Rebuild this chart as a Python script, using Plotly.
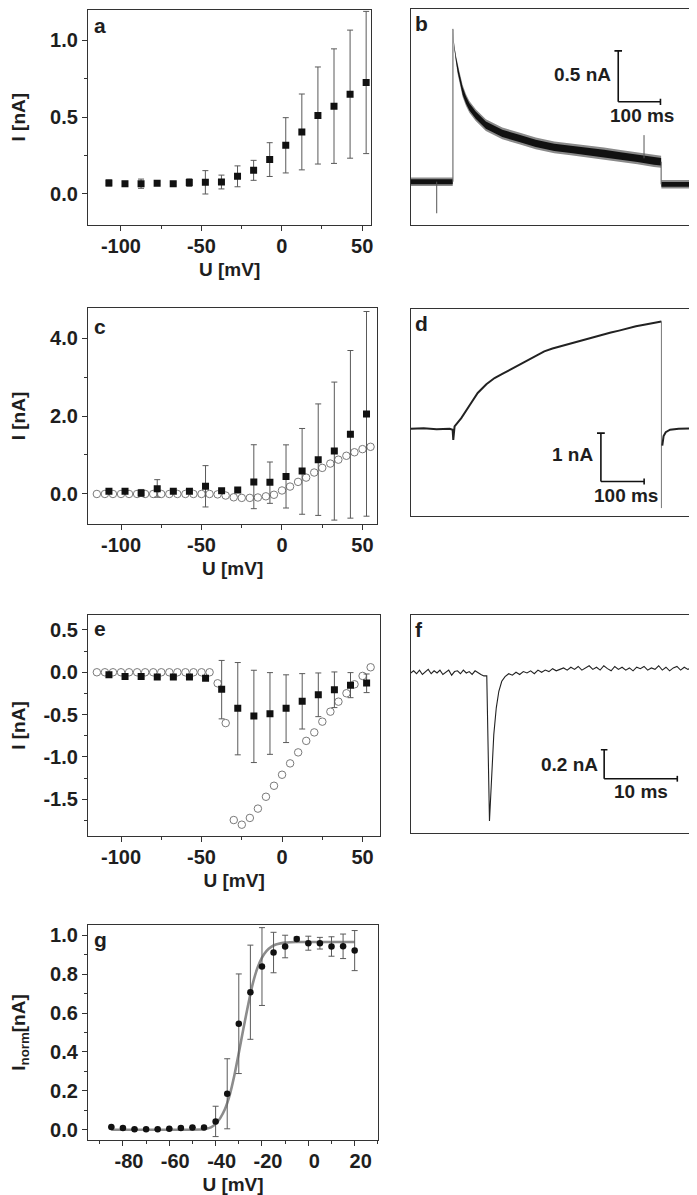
import plotly.graph_objects as go

# ---------------- data ----------------
# panel a
A_U = [-107.5, -97.5, -87.5, -77.5, -67.5, -57.5, -47.5, -37.5, -27.5, -17.5, -7.5, 2.5, 12.5, 22.5, 32.5, 42.5, 52.5]
A_I = [0.072, 0.067, 0.067, 0.070, 0.067, 0.074, 0.076, 0.078, 0.115, 0.154, 0.224, 0.317, 0.404, 0.511, 0.572, 0.650, 0.726]
A_ERR = [0.02, 0.015, 0.03, 0.01, 0.01, 0.025, 0.076, 0.045, 0.068, 0.065, 0.11, 0.18, 0.247, 0.316, 0.373, 0.417, 0.463]

# panel c
C_U = [-107.5, -97.5, -87.5, -77.5, -67.5, -57.5, -47.5, -37.5, -27.5, -17.5, -7.5, 2.5, 12.5, 22.5, 32.5, 42.5, 52.5]
C_I = [0.068, 0.068, 0.026, 0.137, 0.070, 0.070, 0.197, 0.085, 0.100, 0.308, 0.300, 0.450, 0.590, 0.880, 1.100, 1.530, 2.050]
C_ERR_UP = [0.02, 0.02, 0.09, 0.23, 0.02, 0.02, 0.53, 0.03, 0.03, 0.955, 0.52, 0.81, 1.09, 1.43, 1.77, 2.15, 2.63]
C_ERR_DN = [0.02, 0.02, 0.09, 0.22, 0.02, 0.02, 0.53, 0.03, 0.03, 0.685, 0.54, 0.81, 1.11, 1.43, 1.77, 2.15, 2.62]
C_OPEN_U = [-115, -110, -105, -100, -95, -90, -85, -80, -75, -70, -65, -60, -55, -50, -45, -40,
            -35, -30, -25, -20, -15, -10, -5, 0, 5, 10, 15, 20, 25, 30, 35, 40, 45, 50, 55]
C_OPEN_I = [0.0, 0.0, 0.0, 0.0, 0.0, 0.0, 0.0, 0.0, 0.0, 0.0, 0.0, 0.0, 0.0, 0.0, 0.0, -0.01,
            -0.04, -0.085, -0.10, -0.10, -0.09, -0.06, -0.02, 0.09, 0.19, 0.31, 0.42, 0.55, 0.67, 0.78, 0.88, 0.98, 1.07, 1.15, 1.21]

# panel e
E_U = [-107.5, -97.5, -87.5, -77.5, -67.5, -57.5, -47.5, -37.5, -27.5, -17.5, -7.5, 2.5, 12.5, 22.5, 32.5, 42.5, 52.5]
E_I = [-0.03, -0.05, -0.05, -0.055, -0.055, -0.055, -0.07, -0.20, -0.425, -0.516, -0.489, -0.425, -0.343, -0.264, -0.205, -0.154, -0.126]
E_ERR_UP = [0.01, 0.01, 0.01, 0.01, 0.01, 0.01, 0.02, 0.34, 0.54, 0.54, 0.485, 0.395, 0.327, 0.256, 0.209, 0.15, 0.106]
E_ERR_DN = [0.01, 0.01, 0.01, 0.01, 0.01, 0.01, 0.02, 0.35, 0.55, 0.55, 0.48, 0.405, 0.327, 0.26, 0.212, 0.146, 0.114]
E_OPEN_U = [-115, -110, -105, -100, -95, -90, -85, -80, -75, -70, -65, -60, -55, -50, -45,
            -40, -35, -30, -25, -20, -15, -10, -5, 0, 5, 10, 15, 20, 25, 30, 35, 40, 45, 50, 55]
E_OPEN_I = [0.0, 0.0, 0.0, 0.0, 0.0, 0.0, 0.0, 0.0, 0.0, 0.0, 0.0, 0.0, 0.0, 0.0, 0.0,
            -0.13, -0.60, -1.745, -1.80, -1.72, -1.61, -1.47, -1.34, -1.21, -1.076, -0.946, -0.81, -0.71, -0.583, -0.465, -0.347, -0.248, -0.142, -0.043, 0.059]

# panel g
G_U = [-85, -80, -75, -70, -65, -60, -55, -50, -45, -40, -35, -30, -25, -20, -15, -10, -5, 0, 5, 10, 15, 20]
G_I = [0.014, 0.009, 0.003, 0.003, 0.003, 0.005, 0.009, 0.012, 0.012, 0.043, 0.185, 0.545, 0.707, 0.839, 0.911, 0.942, 0.981, 0.959, 0.959, 0.942, 0.943, 0.921]
G_ERR = [0, 0, 0, 0, 0, 0, 0, 0, 0.005, 0.078, 0.18, 0.256, 0.242, 0.2, 0.104, 0.058, 0.01, 0.036, 0.03, 0.05, 0.063, 0.103]
G_FIT_U = [-85, -60, -45, -42, -40, -38, -36, -34, -32, -30, -28, -26, -24, -22, -20, -18, -16, -14, -12, -10, -5, 0, 20]
G_FIT_I = [0.0, 0.0, 0.003, 0.012, 0.03, 0.06, 0.105, 0.175, 0.275, 0.395, 0.52, 0.64, 0.75, 0.83, 0.885, 0.92, 0.94, 0.952, 0.958, 0.962, 0.965, 0.965, 0.965]

# panel b trace (ms, nA)
B_PRE_T = [0, 99.5]
B_PRE_I = [0.0, 0.0]
B_DEC_T = [100, 103, 107, 111, 115, 123, 131, 139, 154, 178, 217, 257, 296, 340, 379, 419, 458, 497, 537, 576, 593]
B_DEC_I = [1.50, 1.33, 1.21, 1.11, 1.03, 0.89, 0.80, 0.735, 0.654, 0.556, 0.474, 0.425, 0.376, 0.337, 0.317, 0.30, 0.278, 0.252, 0.229, 0.203, 0.196]
B_POST_T = [593.5, 694.5]
B_POST_I = [-0.026, -0.026]
B_SPIKE_T = [61.6, 552.5]
B_SPIKE_I = [-0.31, 0.457]

# panel d trace (ms, nA)
D_T = [0, 30, 60, 90, 97, 98.5, 101.5, 117, 136, 155, 175, 194, 213, 232, 252, 271, 290, 309, 328, 348, 367,
       386, 405, 425, 444, 463, 482, 502, 521, 540, 559, 575, 580]
D_I = [0.0, 0.01, -0.01, 0.0, -0.02, -0.23, 0.05, 0.22, 0.48, 0.74, 0.92, 1.05, 1.14, 1.23, 1.33, 1.43, 1.52, 1.60, 1.66, 1.71, 1.76,
       1.81, 1.86, 1.91, 1.95, 1.99, 2.03, 2.08, 2.12, 2.15, 2.18, 2.21, 2.22]
D_TAIL_T = [582, 585, 590, 600, 620, 650, 678.5]
D_TAIL_I = [-0.35, -0.15, -0.07, -0.02, 0.0, 0.01, 0.01]
D_DROP_I = -1.64

# panel f trace (ms, nA), sampled every 0.4 ms before and 0.5 ms after the event
F_PRE = [0.00, 0.015, -0.005, 0.02, -0.01, 0.01, 0.025, -0.005, 0.015, 0.0, 0.02, -0.01, 0.005,
         0.02, -0.015, 0.01, 0.015, -0.005, 0.02, 0.0, 0.01, -0.01, 0.015, 0.0, -0.01, -0.02]
F_EVT_T = [10.4, 10.77, 11.1, 11.36, 11.7, 12.05, 12.45]
F_EVT_I = [-0.02, -1.02, -0.70, -0.425, -0.24, -0.126, -0.057]
F_POST = [-0.025, -0.005, -0.015, 0.005, -0.01, 0.01, 0.0, 0.015, -0.005, 0.02, 0.005, 0.02, 0.01, 0.03,
          0.015, 0.025, 0.035, 0.02, 0.04, 0.025, 0.045, 0.02, 0.035, 0.05, 0.025, 0.04, 0.02, 0.05,
          0.03, 0.015, 0.045, 0.025, 0.04, 0.02, 0.035, 0.015, 0.04, 0.03, 0.045, 0.02, 0.035, 0.025,
          0.05, 0.02, 0.04, 0.015, 0.035, 0.045, 0.02, 0.04, 0.025, 0.035, 0.015, 0.03, 0.02]

X_TICKS = [-100, -50, 0, 50]
X_TICKTEXT = ["-100", "-50", "0", "50"]
A_YTICKS = [0.0, 0.5, 1.0]
A_YTICKTEXT = ["0.0", "0.5", "1.0"]
C_YTICKS = [0.0, 2.0, 4.0]
C_YTICKTEXT = ["0.0", "2.0", "4.0"]
E_YTICKS = [-1.5, -1.0, -0.5, 0.0, 0.5]
E_YTICKTEXT = ["-1.5", "-1.0", "-0.5", "0.0", "0.5"]
G_XTICKS = [-80, -60, -40, -20, 0, 20]
G_XTICKTEXT = ["-80", "-60", "-40", "-20", "0", "20"]
G_YTICKS = [0.0, 0.2, 0.4, 0.6, 0.8, 1.0]
G_YTICKTEXT = ["0.0", "0.2", "0.4", "0.6", "0.8", "1.0"]

# ---------------- figure ----------------
W, H = 697, 1195
FONT = "Liberation Sans, Arial, sans-serif"
INK = "#1e1e1e"


def dx(a, b):
    return [a / W, b / W]


def dy(top, bot):
    return [1 - bot / H, 1 - top / H]


fig = go.Figure()

SQ = dict(symbol="square", size=7, color="#111111", line=dict(width=0))
OPEN = dict(symbol="circle-open", size=7.5, color="#7a7a7a", line=dict(width=1))


def err(up, dn=None):
    d = dict(type="data", array=up, color="#5a5a5a", thickness=1, width=3, visible=True)
    if dn is not None:
        d["symmetric"] = False
        d["arrayminus"] = dn
    return d


# a
fig.add_trace(go.Scatter(x=A_U, y=A_I, mode="markers", marker=SQ, error_y=err(A_ERR), xaxis="x", yaxis="y"))
# c
fig.add_trace(go.Scatter(x=C_OPEN_U, y=C_OPEN_I, mode="markers", marker=OPEN, xaxis="x3", yaxis="y3"))
fig.add_trace(go.Scatter(x=C_U, y=C_I, mode="markers", marker=SQ, error_y=err(C_ERR_UP, C_ERR_DN), xaxis="x3", yaxis="y3"))
# e
fig.add_trace(go.Scatter(x=E_OPEN_U, y=E_OPEN_I, mode="markers", marker=OPEN, xaxis="x5", yaxis="y5"))
fig.add_trace(go.Scatter(x=E_U, y=E_I, mode="markers", marker=SQ, error_y=err(E_ERR_UP, E_ERR_DN), xaxis="x5", yaxis="y5"))
# g
fig.add_trace(go.Scatter(x=G_FIT_U, y=G_FIT_I, mode="lines", line=dict(color="#8c8c8c", width=2.6, shape="spline", smoothing=0.6),
                         xaxis="x7", yaxis="y7"))
fig.add_trace(go.Scatter(x=G_U, y=G_I, mode="markers", marker=dict(symbol="circle", size=6.5, color="#111111"),
                         error_y=err(G_ERR), xaxis="x7", yaxis="y7"))


# b : noisy band drawn as envelopes
def band(xs, mid, hw, color, xa, ya):
    up = [m + w for m, w in zip(mid, hw)]
    lo = [m - w for m, w in zip(mid, hw)]
    return go.Scatter(x=list(xs) + list(xs)[::-1], y=up + lo[::-1], mode="lines", fill="toself",
                      fillcolor=color, line=dict(width=0), xaxis=xa, yaxis=ya, hoverinfo="skip")


core_dec = [min(0.036, 0.004 + 0.008 * i) for i in range(len(B_DEC_T))]
fr_dec = [c + 0.022 * min(1, i / 3) for i, c in enumerate(core_dec)]
for xs, ys, core, fr in [(B_PRE_T, B_PRE_I, [0.024, 0.024], [0.042, 0.042]),
                         (B_DEC_T, B_DEC_I, core_dec, fr_dec),
                         (B_POST_T, B_POST_I, [0.024, 0.024], [0.042, 0.042])]:
    fig.add_trace(band(xs, ys, fr, "#8a8a8a", "x2", "y2"))
    fig.add_trace(band(xs, ys, core, "#111111", "x2", "y2"))
# steps and spikes (thin)
fig.add_trace(go.Scatter(x=[B_DEC_T[0], B_DEC_T[0], None, B_DEC_T[-1], B_DEC_T[-1], None,
                            B_SPIKE_T[0], B_SPIKE_T[0], None, B_SPIKE_T[1], B_SPIKE_T[1]],
                         y=[B_PRE_I[-1], B_DEC_I[0], None, B_DEC_I[-1], B_POST_I[0], None,
                            0.0, B_SPIKE_I[0], None, B_DEC_I[-3], B_SPIKE_I[1]],
                         mode="lines", line=dict(color="#555555", width=1), xaxis="x2", yaxis="y2"))

# d
fig.add_trace(go.Scatter(x=D_T, y=D_I, mode="lines", line=dict(color="#222222", width=2), xaxis="x4", yaxis="y4"))
fig.add_trace(go.Scatter(x=[D_T[-1], D_T[-1]], y=[D_I[-1], D_DROP_I], mode="lines", line=dict(color="#777777", width=1),
                         xaxis="x4", yaxis="y4"))
fig.add_trace(go.Scatter(x=D_TAIL_T, y=D_TAIL_I, mode="lines", line=dict(color="#222222", width=2), xaxis="x4", yaxis="y4"))

# f
F_PRE_T = [0.4 * i for i in range(len(F_PRE))]
F_POST_T = [12.9 + 0.5 * i for i in range(len(F_POST))]
fig.add_trace(go.Scatter(x=F_PRE_T + F_EVT_T + F_POST_T, y=F_PRE + F_EVT_I + F_POST, mode="lines",
                         line=dict(color="#222222", width=1.1), xaxis="x6", yaxis="y6"))

# ---------------- axes ----------------
TICKF = dict(family=FONT, size=20, color=INK, weight="bold")
TITLEF = dict(family=FONT, size=19, color=INK, weight="bold")
BASE = dict(showline=True, linecolor="#333333", linewidth=1.2, mirror=True, showgrid=False, zeroline=False,
            automargin=False, fixedrange=True)
TICKED = dict(BASE, ticks="outside", ticklen=5, tickwidth=1.1, tickcolor="#333333", tickfont=TICKF, tickmode="array")


def minor(step):
    return dict(ticks="outside", ticklen=3, tickwidth=1, tickcolor="#333333", dtick=step, tick0=0, showgrid=False)


def xt(rng, dom, vals, text, step, title="U [mV]", **kw):
    return dict(TICKED, range=rng, domain=dom, tickvals=vals, ticktext=text, minor=minor(step),
                ticklabelstandoff=-2, title=dict(text=title, font=TITLEF, standoff=6), **kw)


def yt(rng, dom, vals, text, step, title="I [nA]", **kw):
    return dict(TICKED, range=rng, domain=dom, tickvals=vals, ticktext=text, minor=minor(step),
                title=dict(text=title, font=TITLEF, standoff=22), **kw)


def blank(rng, dom):
    return dict(BASE, range=rng, domain=dom, showticklabels=False, ticks="")


layout = dict(
    width=W, height=H, margin=dict(l=0, r=0, t=0, b=0), paper_bgcolor="white", plot_bgcolor="white",
    showlegend=False, font=dict(family=FONT, color=INK),
    # a
    xaxis=xt([-120.5, 55.7], dx(80, 363.3), X_TICKS, X_TICKTEXT, 25, anchor="y"),
    yaxis=yt([-0.2, 1.2], dy(1.7, 216.7), A_YTICKS, A_YTICKTEXT, 0.25, anchor="x"),
    # b
    xaxis2=blank([0, 694.5], dx(402.7, 696)) | dict(anchor="y2"),
    yaxis2=blank([-0.428, 1.699], dy(0.6, 217.3)) | dict(anchor="x2"),
    # c
    xaxis3=xt([-120.5, 59.2], dx(80, 369.3), X_TICKS, X_TICKTEXT, 25, anchor="y3"),
    yaxis3=yt([-0.77, 4.77], dy(300, 516), C_YTICKS, C_YTICKTEXT, 1.0, anchor="x3"),
    # d
    xaxis4=blank([0, 678.5], dx(402.7, 696)) | dict(anchor="y4"),
    yaxis4=blank([-1.81, 2.477], dy(301, 508.3)) | dict(anchor="x4"),
    # e
    xaxis5=xt([-120.5, 61], dx(80, 372.3), X_TICKS, X_TICKTEXT, 25, anchor="y5"),
    yaxis5=yt([-1.937, 0.68], dy(606.7, 828.3), E_YTICKS, E_YTICKTEXT, 0.25, anchor="x5"),
    # f
    xaxis6=blank([0, 40.1], dx(402.7, 696)) | dict(anchor="y6"),
    yaxis6=blank([-1.103, 0.402], dy(606.7, 825)) | dict(anchor="x6"),
    # g
    xaxis7=xt([-95.07, 30.07], dx(80, 370), G_XTICKS, G_XTICKTEXT, 10, anchor="y7", ticklabelshift=6),
    yaxis7=yt([-0.051, 1.051], dy(917.3, 1131.7), G_YTICKS, G_YTICKTEXT, 0.1, anchor="x7",
              title_text="I<sub>norm</sub>[nA]"),
)
fig.update_layout(**layout)

# ---------------- scale bars ----------------
SB = dict(color="#111111", width=1.6)


def scalebar(xr, yr, x0, y0, xlen, ylen, xcap, ycap):
    # vertical bar from (x0, y0) to (x0, y0+ylen); horizontal from (x0, y0) to (x0+xlen, y0)
    fig.add_shape(type="line", xref=xr, yref=yr, x0=x0, x1=x0, y0=y0, y1=y0 + ylen, line=SB)
    fig.add_shape(type="line", xref=xr, yref=yr, x0=x0, x1=x0 + xlen, y0=y0, y1=y0, line=SB)
    fig.add_shape(type="line", xref=xr, yref=yr, x0=x0 - xcap, x1=x0 + xcap, y0=y0 + ylen, y1=y0 + ylen, line=SB)
    fig.add_shape(type="line", xref=xr, yref=yr, x0=x0 + xlen, x1=x0 + xlen, y0=y0 - ycap, y1=y0 + ycap, line=SB)


scalebar("x2", "y2", 491.4, 0.784, 100, 0.5, 9, 0.03)
scalebar("x4", "y4", 440, -1.09, 100, 1.0, 9, 0.06)
scalebar("x6", "y6", 26.45, -0.729, 10, 0.2, 0.45, 0.02)

TXT = dict(family=FONT, size=19, color=INK, weight="bold")
for xr, yr, x, y, t, anc in [("x2", "y2", 478, 1.055, "0.5 nA", "right"), ("x2", "y2", 548, 0.647, "100 ms", "center"),
                             ("x4", "y4", 426, -0.54, "1 nA", "right"), ("x4", "y4", 498, -1.39, "100 ms", "center"),
                             ("x6", "y6", 25.9, -0.628, "0.2 nA", "right"), ("x6", "y6", 31.5, -0.82, "10 ms", "center")]:
    fig.add_annotation(xref=xr, yref=yr, x=x, y=y, text=t, showarrow=False, xanchor=anc, yanchor="middle", font=TXT)

# panel letters
for x, y, t in [(84, 17, "a"), (405, 16, "b"), (84, 318, "c"), (405, 315, "d"), (84, 620, "e"), (405, 621, "f"), (84, 932, "g")]:
    fig.add_annotation(xref="paper", yref="paper", x=x / W, y=1 - y / H, text=t, showarrow=False,
                       xanchor="left", yanchor="middle", font=dict(family=FONT, size=21, color=INK, weight="bold"))

fig.write_html("out.html")
